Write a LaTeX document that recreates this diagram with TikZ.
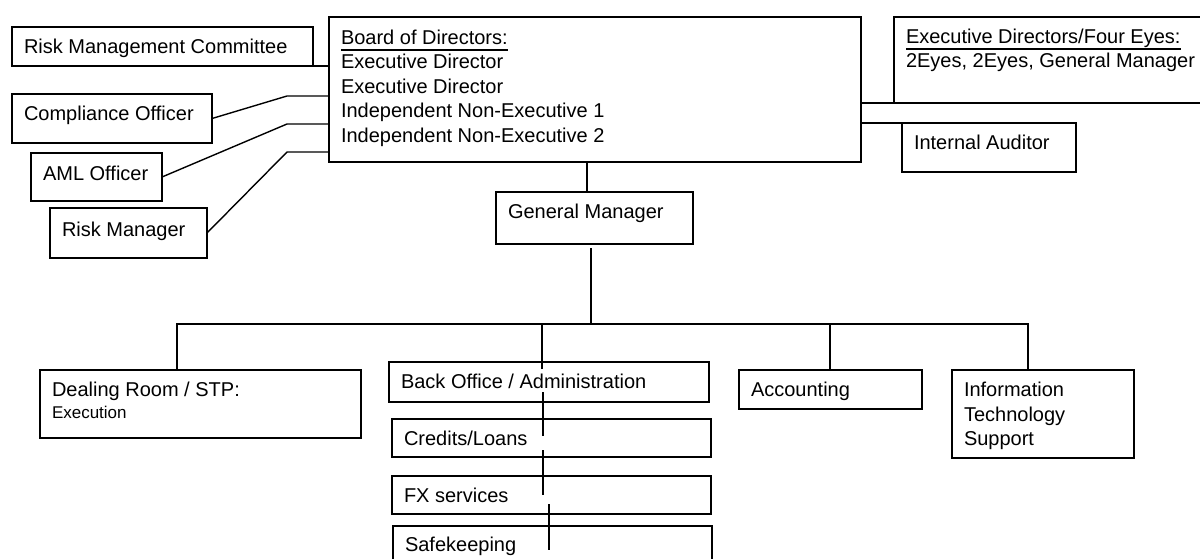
\documentclass[tikz,border=0pt]{standalone}
\usepackage{fontspec}
\setmainfont{Liberation Sans}
\usepackage{tikz}

% text block of a fixed size, set from the top left
\newcommand{\cellbox}[4]{\parbox[t][#2][t]{#1}{\raggedright\vspace*{#3}#4}}
% heading with a low, thick underline
\newcommand{\headline}[1]{\leavevmode\setbox0\hbox{#1}\rlap{\rule[-6.5pt]{\wd0}{1.6pt}}\box0}

\begin{document}
\begin{tikzpicture}[
    x=1pt, y=-1pt, % one unit = one pixel of the chart, y downwards
    unit/.style={
        draw, % box border
        line width=1.5pt,
        anchor=north west,
        inner xsep=12pt, inner ysep=0pt, outer sep=0pt,
        font=\fontsize{20}{24.5}\selectfont
    },
    link/.style={line width=1.4pt}
]
\clip (0,0) rectangle (1200,558);

% board and its committees
\node[unit] (board) at (329,17) {\cellbox{508pt}{145pt}{13pt}{\headline{Board of Directors:}\\Executive Director\\Executive Director\\Independent Non-Executive 1\\Independent Non-Executive 2}};
\node[unit] (rmc) at (12,27) {\cellbox{277pt}{39pt}{12pt}{Risk Management Committee}};
\node[unit] (co) at (12,94) {\cellbox{176pt}{49pt}{12pt}{Compliance Officer}};
\node[unit] (aml) at (31,153) {\cellbox{107pt}{48pt}{13pt}{AML Officer}};
\node[unit] (rm) at (50,208) {\cellbox{133pt}{50pt}{14pt}{Risk Manager}};
\node[unit] (edfe) at (894,17) {\cellbox{316pt}{86pt}{12pt}{\headline{Executive Directors/Four Eyes:}\\2Eyes, 2Eyes, General Manager}};
\node[unit] (ia) at (902,123) {\cellbox{150pt}{49pt}{12pt}{Internal Auditor}};
\node[unit] (gm) at (496,192) {\cellbox{173pt}{52pt}{12pt}{General Manager}};

% departments
\node[unit] (dr) at (40,370) {\cellbox{297pt}{68pt}{12pt}{Dealing Room / STP:\\[-3pt]{\fontsize{17}{20}\selectfont Execution}}};
\node[unit] (bo) at (389,362) {\cellbox{296pt}{40pt}{12pt}{Back Office / Administration}};
\node[unit] (cl) at (392,419) {\cellbox{295pt}{38pt}{12pt}{Credits/Loans}};
\node[unit] (fx) at (392,476) {\cellbox{295pt}{38pt}{12pt}{FX services}};
\node[unit] (sk) at (393,526) {\cellbox{295pt}{60pt}{11pt}{Safekeeping}};
\node[unit] (ac) at (739,370) {\cellbox{159pt}{39pt}{12pt}{Accounting}};
\node[unit] (it) at (952,370) {\cellbox{158pt}{88pt}{12pt}{Information\\Technology\\Support}};

\coordinate (k1) at (287,96);
\coordinate (k2) at (287,124);
\coordinate (k3) at (287,152);
\coordinate (busL) at (177,324);
\coordinate (busR) at (1028,324);
\coordinate (busB) at (542,324);
\coordinate (colA) at (543,0);
\coordinate (colB) at (549,0);

% left side
\draw[link] (rmc.south east) -- (rmc.south east -| board.west);
\draw[link] (co.east) -- (k1) -- (k1 -| board.west);
\draw[link] (aml.east) -- (k2) -- (k2 -| board.west);
\draw[link] (rm.east) -- (k3) -- (k3 -| board.west);

% right side
\draw[link] (edfe.south west -| board.east) -- (edfe.south west);
\draw[link] (ia.north west -| board.east) -- (ia.north west);

% down to the general manager and the departments
\draw[link] ([xshift=-7.5pt]gm.north) -- ([xshift=-7.5pt]gm.north |- board.south);
\draw[link] ([xshift=-3.5pt,yshift=-4pt]gm.south) -- ([xshift=-3.5pt]gm.south |- busL);
\draw[link] (dr.north -| busL) -- (busL) -- (busR) -- (busR |- it.north);
\draw[link] ([xshift=-0.5pt]ac.north) -- ([xshift=-0.5pt]ac.north |- busL);
\draw[link] ([yshift=-7pt]bo.north -| busB) -- (busB);

% back office column
\draw[link] ([yshift=10pt]bo.south -| colA) -- ([yshift=-17pt]cl.north -| colA);
\draw[link] ([yshift=7pt]cl.south -| colA) -- ([yshift=-19pt]fx.north -| colA);
\draw[link] ([yshift=10pt]fx.south -| colB) -- ([yshift=-24pt]sk.north -| colB);
\end{tikzpicture}
\end{document}
